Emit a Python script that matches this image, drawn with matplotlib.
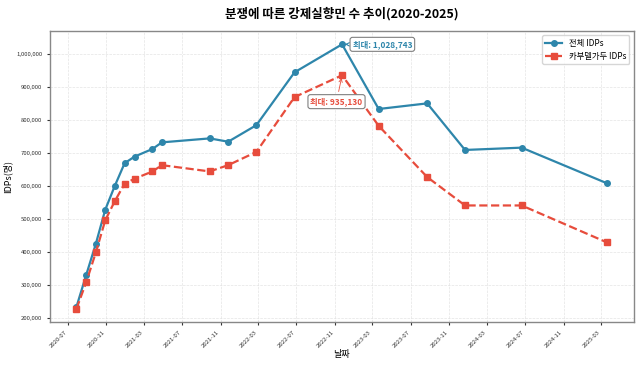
import matplotlib
matplotlib.use("Agg")
import matplotlib.pyplot as plt
import matplotlib.dates as mdates
import matplotlib.ticker as mticker
import pandas as pd

plt.rcParams['font.family'] = ['Noto Sans CJK KR', 'DejaVu Sans']
plt.rcParams['axes.unicode_minus'] = False

dates = ["2020-07-28", "2020-08-28", "2020-09-28", "2020-10-28", "2020-11-27",
         "2020-12-29", "2021-01-30", "2021-03-28", "2021-04-27", "2021-09-27",
         "2021-11-25", "2022-02-23", "2022-06-25", "2022-11-24", "2023-03-21",
         "2023-08-23", "2023-12-22", "2024-06-20", "2025-03-20"]
total_idps = [234000, 330000, 425000, 528000, 599000, 669000, 689000, 712000,
              732000, 744000, 734000, 784000, 944000, 1028743, 833000, 850000,
              709000, 716000, 608000]
kabul_idps = [228000, 308000, 399000, 496000, 553000, 607000, 622000, 644000,
              663000, 644000, 663000, 703000, 869000, 935130, 782000, 627000,
              541000, 541000, 429000]

x = pd.to_datetime(dates)

fig, ax = plt.subplots(figsize=(6.4, 3.66), dpi=100)
blue = '#2E86AB'
red = '#E74C3C'
ax.plot(x, total_idps, color=blue, linewidth=1.6, marker='o', markersize=4,
        label='전체 IDPs')
ax.plot(x, kabul_idps, color=red, linewidth=1.6, linestyle='--', marker='s',
        markersize=4, label='카부델가두 IDPs')

imax = total_idps.index(max(total_idps))
ax.annotate(f'최대: {total_idps[imax]:,}', xy=(x[imax], total_idps[imax]),
            xytext=(29, 0), textcoords='offset points', color=blue,
            fontsize=6, fontweight='bold', ha='center', va='center',
            bbox=dict(boxstyle='round,pad=0.3', facecolor='white', edgecolor='gray', linewidth=0.8),
            arrowprops=dict(arrowstyle='->', color=blue, linewidth=0.8))
jmax = kabul_idps.index(max(kabul_idps))
ax.annotate(f'최대: {kabul_idps[jmax]:,}', xy=(x[jmax], kabul_idps[jmax]),
            xytext=(-4, -19), textcoords='offset points', color=red,
            fontsize=6, fontweight='bold', ha='center', va='center',
            bbox=dict(boxstyle='round,pad=0.3', facecolor='white', edgecolor='gray', linewidth=0.8),
            arrowprops=dict(arrowstyle='->', color=red, linewidth=0.6))

ax.set_title('분쟁에 따른 강제실향민 수 추이(2020-2025)', fontsize=9, fontweight='bold', pad=10)
ax.set_xlabel('날짜', fontsize=6.5, labelpad=1)
ax.set_ylabel('IDPs(명)', fontsize=6.5, labelpad=3)

ax.xaxis.set_major_locator(mdates.MonthLocator(bymonth=[3, 7, 11]))
ax.xaxis.set_major_formatter(mdates.DateFormatter('%Y-%m'))
ax.yaxis.set_major_formatter(mticker.FuncFormatter(lambda v, p: f'{int(v):,}'))
ax.tick_params(axis='both', labelsize=4.3, length=2, colors='#333333')
plt.setp(ax.get_xticklabels(), rotation=45, ha='right')

ax.grid(True, linestyle='--', linewidth=0.5, color='#dddddd', alpha=0.8)
for s in ax.spines.values():
    s.set_color('#888888')
    s.set_linewidth(1.0)

leg = ax.legend(loc='upper right', fontsize=6, frameon=True)

fig.subplots_adjust(left=0.078, right=0.99, top=0.915, bottom=0.12)
fig.savefig('out.png', dpi=100)
